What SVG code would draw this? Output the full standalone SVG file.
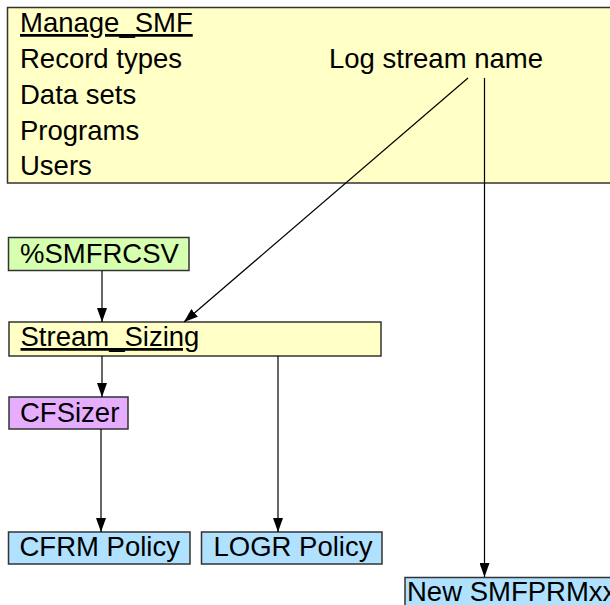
<svg xmlns="http://www.w3.org/2000/svg" width="610" height="605" viewBox="0 0 610 605">
  <style>
    .box { stroke: #333333; stroke-width: 1.5; }
    .yellow { fill: #FFFFC6; }
    .green { fill: #D6FFB0; }
    .purple { fill: #E6ADFF; }
    .blue { fill: #B0E2FF; }
    .label { font-family: "Liberation Sans", Arial, sans-serif; font-size: 27.5px; fill: #000000; }
    .u { text-decoration: underline; }
    .edge { stroke: #000000; stroke-width: 1.2; fill: none; marker-end: url(#arrow); }
  </style>
  <defs>
    <marker id="arrow" markerUnits="userSpaceOnUse" markerWidth="14" markerHeight="10" refX="14" refY="5" orient="auto" viewBox="0 0 14 10">
      <path d="M0,0 L14,5 L0,10 z" fill="#000000"/>
    </marker>
  </defs>

  <rect width="610" height="605" fill="#FFFFFF"/>

  <!-- Manage_SMF panel -->
  <g id="manage-smf">
    <rect class="box yellow" x="7.5" y="7.5" width="620" height="175.5"/>
    <text class="label u" x="20" y="32">Manage_SMF</text>
    <text class="label" x="20" y="68">Record types</text>
    <text class="label" x="20" y="104">Data sets</text>
    <text class="label" x="20" y="140">Programs</text>
    <text class="label" x="20" y="175">Users</text>
    <text class="label" x="329" y="68">Log stream name</text>
  </g>

  <g id="smfrcsv">
    <rect class="box green" x="8.5" y="237.5" width="180.5" height="33"/>
    <text class="label" x="20" y="262.5">%SMFRCSV</text>
  </g>

  <g id="stream-sizing">
    <rect class="box yellow" x="9" y="322" width="372" height="34"/>
    <text class="label u" x="20.5" y="346">Stream_Sizing</text>
  </g>

  <g id="cfsizer">
    <rect class="box purple" x="9" y="397" width="119" height="32"/>
    <text class="label" x="20" y="421.5">CFSizer</text>
  </g>

  <g id="cfrm-policy">
    <rect class="box blue" x="8.5" y="532" width="181.5" height="32"/>
    <text class="label" x="19.5" y="556">CFRM Policy</text>
  </g>

  <g id="logr-policy">
    <rect class="box blue" x="201.5" y="532" width="180.5" height="32"/>
    <text class="label" x="213.5" y="556">LOGR Policy</text>
  </g>

  <g id="new-smfprmxx">
    <rect class="box blue" x="405" y="577.5" width="220" height="40"/>
    <text class="label" x="407" y="601">New SMFPRMxx</text>
  </g>

  <!-- connectors -->
  <g id="connectors">
    <path class="edge" d="M468,78 L184,322"/>
    <path class="edge" d="M484.5,78 L484.5,577"/>
    <path class="edge" d="M102,271 L102,322"/>
    <path class="edge" d="M102,356 L102,397"/>
    <path class="edge" d="M101,429 L101,532"/>
    <path class="edge" d="M278,356 L278,532"/>
  </g>
</svg>
